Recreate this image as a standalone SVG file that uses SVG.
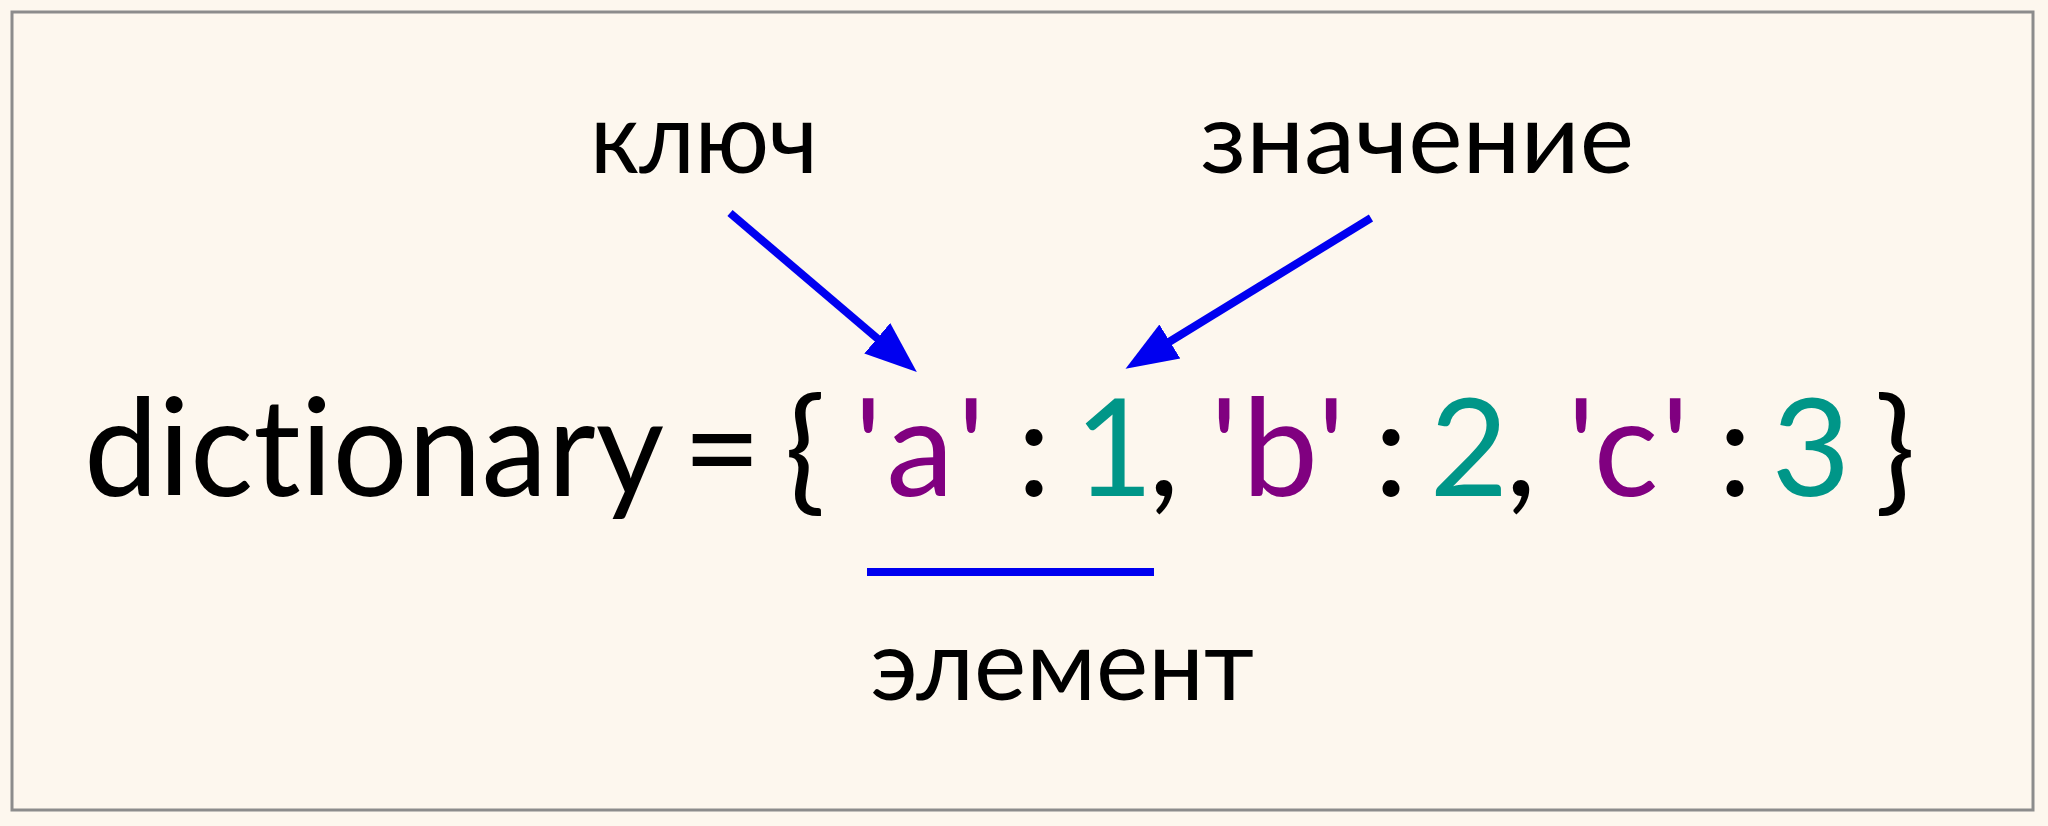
<svg xmlns="http://www.w3.org/2000/svg" width="2048" height="826" viewBox="0 0 2048 826">
  <style>
    .t { font-family: Lato, "Noto Sans", "DejaVu Sans", sans-serif; fill: #000; font-variant-ligatures: none; }
    .big { font-size: 136px; }
    .lbl { font-size: 98px; }
    .key { fill: #800080; }
    .val { fill: #009688; }
    .conn { stroke: #0000f0; stroke-width: 8; fill: none; }
  </style>
  <defs>
    <marker id="head" markerUnits="userSpaceOnUse" markerWidth="54" markerHeight="42" refX="1" refY="21" orient="auto">
      <path d="M0,1 L52,21 L0,41 Z" fill="#0000f0"/>
    </marker>
  </defs>
  <rect x="0" y="0" width="2048" height="826" fill="#fdf7ee"/>
  <rect x="12" y="12" width="2021" height="798" fill="#fdf7ee" stroke="#8c8c8c" stroke-width="3"/>

  <g id="label-key">
    <text class="t lbl" x="590" y="173" textLength="228" lengthAdjust="spacingAndGlyphs">ключ</text>
  </g>
  <g id="label-value">
    <text class="t lbl" x="1200" y="173" textLength="434" lengthAdjust="spacingAndGlyphs">значение</text>
  </g>
  <g id="label-element">
    <text class="t lbl" x="870" y="700" textLength="384" lengthAdjust="spacingAndGlyphs">элемент</text>
  </g>

  <g id="code" class="t big" text-anchor="middle">
    <text class="t big" x="84" y="496" text-anchor="start" textLength="580" lengthAdjust="spacingAndGlyphs">dictionary</text>
    <text x="722" y="496">=</text>
    <text x="805" y="496">{</text>
    <text class="key" x="868 920 971" y="496">'a'</text>
    <text x="1034" y="496">:</text>
    <text class="val" x="1114" y="496">1</text>
    <text x="1164" y="496">,</text>
    <text class="key" x="1224 1280 1331" y="496">'b'</text>
    <text x="1391" y="496">:</text>
    <text class="val" x="1469" y="496">2</text>
    <text x="1521" y="496">,</text>
    <text class="key" x="1581 1626 1675" y="496">'c'</text>
    <text x="1735" y="496">:</text>
    <text class="val" x="1811" y="496">3</text>
    <text x="1895" y="496">}</text>
  </g>

  <g id="connectors">
    <line class="conn" x1="730" y1="213" x2="878" y2="339" marker-end="url(#head)"/>
    <line class="conn" x1="1371" y1="218" x2="1169" y2="342" marker-end="url(#head)"/>
    <line class="conn" x1="867" y1="572" x2="1154" y2="572"/>
  </g>
</svg>
